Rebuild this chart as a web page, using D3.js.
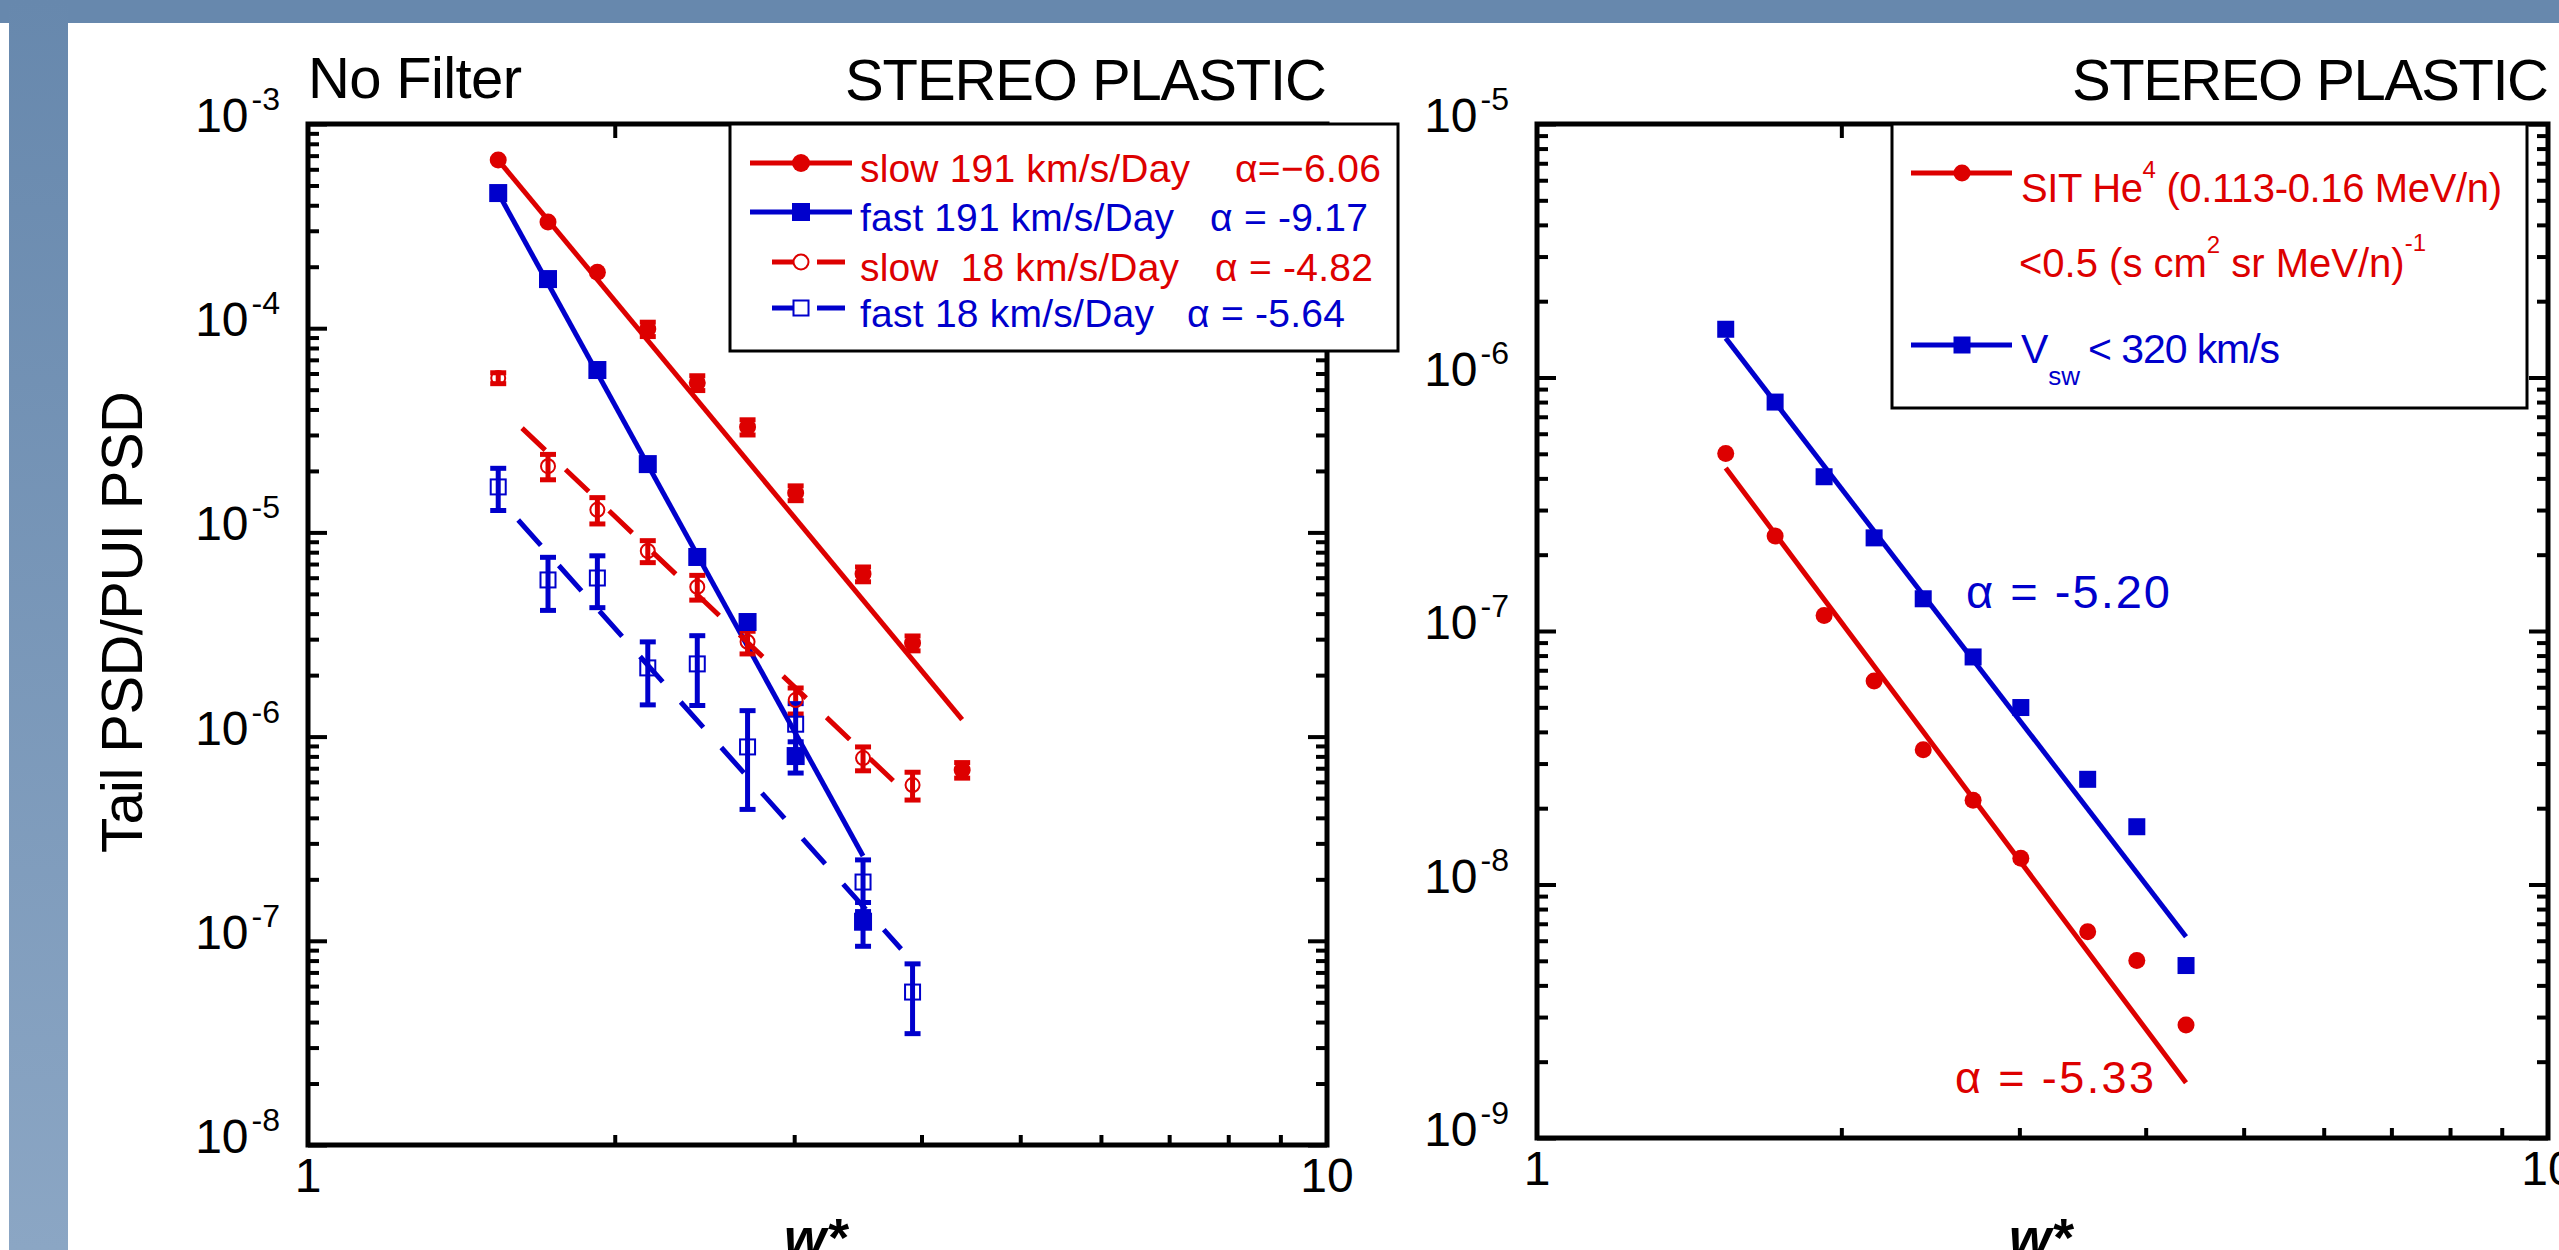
<!DOCTYPE html>
<html>
<head>
<meta charset="utf-8">
<script src="https://cdn.jsdelivr.net/npm/d3@7"></script>
<style>
  body { margin: 0; background: #fff; }
  svg text { font-family: "Liberation Sans", Arial, Helvetica, sans-serif; white-space: pre; }
</style>
</head>
<body>
<svg id="fig" width="2559" height="1250"></svg>
<script>
// ---- data ----
var wStar = [1.537, 1.72, 1.923, 2.155, 2.41, 2.70, 3.01, 3.505, 3.92, 4.385];

// left panel: Tail PSD / PUI PSD
var slow191 = [6.66e-4, 3.31e-4, 1.88e-4, 9.9e-5, 5.4e-5, 3.28e-5, 1.56e-5, 6.25e-6, 2.87e-6, 6.86e-7];
var slow191Err = [0, 0, 0, 8e-6, 4.5e-6, 2.8e-6, 1.3e-6, 5.2e-7, 2.4e-7, 6e-8];
var fast191 = [4.59e-4, 1.74e-4, 6.24e-5, 2.16e-5, 7.58e-6, 3.64e-6, 8.03e-7, 1.24e-7];
var fast191Err = [0, 0, 0, 0, 0, 2e-7, 1.4e-7, 3e-8];
var slow18 = [5.70e-5, 2.11e-5, 1.29e-5, 8.11e-6, 5.41e-6, 2.91e-6, 1.51e-6, 7.85e-7, 5.79e-7];
var slow18Err = [3.5e-6, 3.0e-6, 1.9e-6, 1.0e-6, 7.5e-7, 3.7e-7, 2.2e-7, 1.05e-7, 9e-8];
var fast18 = [1.67e-5, 5.85e-6, 5.98e-6, 2.17e-6, 2.27e-6, 8.9e-7, 1.15e-6, 1.94e-7, 5.61e-8];
var fast18Err = [3.9e-6, 1.7e-6, 1.7e-6, 7.4e-7, 8.5e-7, 4.5e-7, 3e-7, 5.5e-8, 2.1e-8];

// fitted power laws (end points)
var fitSlow191W = [1.537, 4.385], fitSlow191V = [6.66e-4, 1.21e-6];
var fitFast191W = [1.537, 3.505], fitFast191V = [4.59e-4, 2.6e-7];
var fitSlow18W = [1.622, 3.92], fitSlow18V = [3.24e-5, 4.94e-7];
var fitFast18W = [1.608, 3.82], fitFast18V = [1.15e-5, 9.12e-8];

var legendL = ['slow 191 km/s/Day', 'fast 191 km/s/Day', 'slow  18 km/s/Day', 'fast 18 km/s/Day'];
var alphaL = ['\u03b1=\u22126.06', '\u03b1 = -9.17', '\u03b1 = -4.82', '\u03b1 = -5.64'];

// right panel: SIT He4 vs slow solar wind
var sitHe4 = [5.01e-7, 2.37e-7, 1.15e-7, 6.35e-8, 3.40e-8, 2.15e-8, 1.27e-8, 6.51e-9, 5.01e-9, 2.79e-9];
var vswSlow = [1.55e-6, 8.0e-7, 4.06e-7, 2.33e-7, 1.34e-7, 7.9e-8, 4.99e-8, 2.60e-8, 1.69e-8, 4.79e-9];
var fitSitW = [1.537, 4.385], fitSitV = [4.4e-7, 1.65e-9];
var fitVswW = [1.537, 4.385], fitVswV = [1.43e-6, 6.22e-9];
var alphaR = ['\u03b1 = -5.20', '\u03b1 = -5.33'];

// tick labels
var yExpL = [-8, -7, -6, -5, -4, -3];
var yExpR = [-9, -8, -7, -6, -5];
var xTickLabels = [1, 10];

var RED = '#dd0000', BLUE = '#0000cc';
var W = 2559, H = 1250;

var svg = d3.select('#fig');

// ---- slide background ----
var grad = svg.append('defs').append('linearGradient').
attr('id', 'strip').attr('x1', 0).attr('y1', 0).attr('x2', 0).attr('y2', 1);
grad.append('stop').attr('offset', '0%').attr('stop-color', '#6788ad');
grad.append('stop').attr('offset', '100%').attr('stop-color', '#8ba6c4');
svg.append('rect').attr('width', W).attr('height', H).attr('fill', '#fff');
svg.append('rect').attr('width', W).attr('height', 23).attr('fill', '#6788ad');
svg.append('rect').attr('x', 9).attr('width', 59).attr('height', H).attr('fill', 'url(#strip)');

// ---- scales ----
var xL = d3.scaleLog().domain([1, 10]).range([308, 1327]);
var yL = d3.scaleLog().domain([1e-8, 1e-3]).range([1145, 124]);
var xR = d3.scaleLog().domain([1, 10]).range([1537, 2548]);
var yR = d3.scaleLog().domain([1e-9, 1e-5]).range([1138, 124]);

function minorTicks(exps) {
  var out = [];
  for (var i = 0; i < exps.length - 1; i++) {
    for (var k = 2; k <= 9; k++) out.push(k * Math.pow(10, exps[i]));
  }
  return out;
}

function drawFrame(g, x, y, exps, titleX) {
  var x0 = x.range()[0], x1 = x.range()[1], yb = y.range()[0], yt = y.range()[1];
  var majors = exps.map(function (e) { return Math.pow(10, e); });
  var xMinor = d3.range(2, 10);
  g.append('g').attr('class', 'tk').attr('transform', 'translate(0,' + yb + ')').
  call(d3.axisBottom(x).tickValues(xMinor).tickSize(-10).tickFormat(''));
  g.append('g').attr('class', 'tk').attr('transform', 'translate(0,' + yt + ')').
  call(d3.axisTop(x).tickValues(xMinor).tickSize(-14).tickFormat(''));
  [[majors, 19], [minorTicks(exps), 11]].forEach(function (p) {
    g.append('g').attr('class', 'tk').attr('transform', 'translate(' + x0 + ',0)').
    call(d3.axisLeft(y).tickValues(p[0]).tickSize(-p[1]).tickFormat(''));
    g.append('g').attr('class', 'tk').attr('transform', 'translate(' + x1 + ',0)').
    call(d3.axisRight(y).tickValues(p[0]).tickSize(-p[1]).tickFormat(''));
  });
  g.selectAll('.tk .domain').remove();
  g.selectAll('.tk line').attr('stroke', '#000').attr('stroke-width', 4);
  g.append('rect').attr('x', x0).attr('y', yt).attr('width', x1 - x0).attr('height', yb - yt).
  attr('fill', 'none').attr('stroke', '#000').attr('stroke-width', 5);

  // y labels 10^n
  exps.forEach(function (e) {
    var t = g.append('text').attr('x', x0 - 28).attr('y', y(Math.pow(10, e)) + 8).
    attr('text-anchor', 'end').attr('font-size', 48).attr('fill', '#000');
    t.append('tspan').text('10');
    t.append('tspan').attr('dx', 3).attr('dy', -22).attr('font-size', 32).text(String(e));
  });
  // x labels
  xTickLabels.forEach(function (v) {
    g.append('text').attr('x', x(v)).attr('y', yb + 47).attr('text-anchor', 'middle').
    attr('font-size', 48).text(v);
  });
  // x title
  g.append('text').attr('x', titleX).attr('y', 1256).
  attr('font-size', 54).attr('font-style', 'italic').attr('font-weight', 'bold').text('w*');
}

function fitLine(g, x, y, ws, vs, color, dash) {
  var line = d3.line().x(function (d) { return x(d[0]); }).y(function (d) { return y(d[1]); });
  g.append('path').datum(d3.zip(ws, vs)).attr('d', line).
  attr('fill', 'none').attr('stroke', color).attr('stroke-width', 5).
  attr('stroke-dasharray', dash || null);
}

function errorBars(g, x, y, ws, vs, errs, color) {
  vs.forEach(function (v, i) {
    if (!errs[i]) return;
    var cx = x(ws[i]), ty = y(v + errs[i]), by = y(v - errs[i]);
    g.append('line').attr('x1', cx).attr('x2', cx).attr('y1', ty).attr('y2', by).
    attr('stroke', color).attr('stroke-width', 5);
    [ty, by].forEach(function (yy) {
      g.append('line').attr('x1', cx - 8).attr('x2', cx + 8).attr('y1', yy).attr('y2', yy).
      attr('stroke', color).attr('stroke-width', 5);
    });
  });
}

function marker(g, cx, cy, shape, color, filled, size) {
  if (shape === 'circle') {
    g.append('circle').attr('cx', cx).attr('cy', cy).attr('r', size / 2).
    attr('fill', filled ? color : 'none').attr('stroke', color).attr('stroke-width', filled ? 0 : 2);
  } else {
    g.append('rect').attr('x', cx - size / 2).attr('y', cy - size / 2).attr('width', size).attr('height', size).
    attr('fill', filled ? color : 'none').attr('stroke', color).attr('stroke-width', filled ? 0 : 2);
  }
}

function points(g, x, y, ws, vs, shape, color, filled, size) {
  vs.forEach(function (v, i) { marker(g, x(ws[i]), y(v), shape, color, filled, size); });
}

// ================= left panel =================
var gl = svg.append('g');
drawFrame(gl, xL, yL, yExpL, 784);

fitLine(gl, xL, yL, fitSlow191W, fitSlow191V, RED);
fitLine(gl, xL, yL, fitFast191W, fitFast191V, BLUE);
fitLine(gl, xL, yL, fitSlow18W, fitSlow18V, RED, '32,28');
fitLine(gl, xL, yL, fitFast18W, fitFast18V, BLUE, '34,27');

errorBars(gl, xL, yL, wStar, slow191, slow191Err, RED);
errorBars(gl, xL, yL, wStar, fast191, fast191Err, BLUE);
errorBars(gl, xL, yL, wStar, slow18, slow18Err, RED);
errorBars(gl, xL, yL, wStar, fast18, fast18Err, BLUE);

points(gl, xL, yL, wStar, slow191, 'circle', RED, true, 17);
points(gl, xL, yL, wStar, fast191, 'square', BLUE, true, 18);
points(gl, xL, yL, wStar, slow18, 'circle', RED, false, 14);
points(gl, xL, yL, wStar, fast18, 'square', BLUE, false, 15);

gl.append('text').attr('x', 308).attr('y', 98).attr('font-size', 58).
attr('textLength', 214).text('No Filter');
gl.append('text').attr('x', 1327).attr('y', 100).attr('font-size', 58).attr('text-anchor', 'end').
attr('textLength', 482).text('STEREO PLASTIC');
gl.append('text').attr('transform', 'translate(142,622) rotate(-90)').attr('text-anchor', 'middle').
attr('font-size', 58).attr('textLength', 462).text('Tail PSD/PUI PSD');

// legend
var lg = gl.append('g');
lg.append('rect').attr('x', 730).attr('y', 124).attr('width', 668).attr('height', 227).
attr('fill', '#fff').attr('stroke', '#000').attr('stroke-width', 3);
var rowY = [163, 212, 262, 308];
var rowCol = [RED, BLUE, RED, BLUE];
var rowLen = [330, 314, 319, 294];
var alphaX = [1235, 1210, 1215, 1187];
var alphaLen = [146, 158, 158, 158];
rowY.forEach(function (ry, i) {
  var c = rowCol[i];
  if (i < 2) {
    lg.append('line').attr('x1', 750).attr('x2', 852).attr('y1', ry).attr('y2', ry).
    attr('stroke', c).attr('stroke-width', 5);
    marker(lg, 801, ry, i === 0 ? 'circle' : 'square', c, true, 18);
  } else {
    [[772, 794], [817, 845]].forEach(function (s) {
      lg.append('line').attr('x1', s[0]).attr('x2', s[1]).attr('y1', ry).attr('y2', ry).
      attr('stroke', c).attr('stroke-width', 5);
    });
    marker(lg, 801, ry, i === 2 ? 'circle' : 'square', c, false, 15);
  }
  lg.append('text').attr('x', 860).attr('y', ry + 19).attr('font-size', 39).attr('fill', c).
  attr('textLength', rowLen[i]).text(legendL[i]);
  lg.append('text').attr('x', alphaX[i]).attr('y', ry + 19).attr('font-size', 39).attr('fill', c).
  attr('textLength', alphaLen[i]).text(alphaL[i]);
});

// ================= right panel =================
var gr = svg.append('g');
drawFrame(gr, xR, yR, yExpR, 2009);

fitLine(gr, xR, yR, fitVswW, fitVswV, BLUE);
fitLine(gr, xR, yR, fitSitW, fitSitV, RED);
points(gr, xR, yR, wStar, vswSlow, 'square', BLUE, true, 17);
points(gr, xR, yR, wStar, sitHe4, 'circle', RED, true, 17);

gr.append('text').attr('x', 2549).attr('y', 100).attr('font-size', 58).attr('text-anchor', 'end').
attr('textLength', 477).text('STEREO PLASTIC');
gr.append('text').attr('x', 1966).attr('y', 608).attr('font-size', 47).attr('fill', BLUE).
attr('textLength', 204).text(alphaR[0]);
gr.append('text').attr('x', 1955).attr('y', 1093).attr('font-size', 45).attr('fill', RED).
attr('textLength', 199).text(alphaR[1]);

var rg = gr.append('g');
rg.append('rect').attr('x', 1892).attr('y', 124).attr('width', 635).attr('height', 284).
attr('fill', '#fff').attr('stroke', '#000').attr('stroke-width', 3);
rg.append('line').attr('x1', 1911).attr('x2', 2012).attr('y1', 173).attr('y2', 173).
attr('stroke', RED).attr('stroke-width', 5);
marker(rg, 1962, 173, 'circle', RED, true, 17);
rg.append('line').attr('x1', 1911).attr('x2', 2012).attr('y1', 345).attr('y2', 345).
attr('stroke', BLUE).attr('stroke-width', 5);
marker(rg, 1962, 345, 'square', BLUE, true, 17);

var t1 = rg.append('text').attr('x', 2021).attr('y', 202).attr('font-size', 40).attr('fill', RED).
attr('textLength', 481);
t1.append('tspan').text('SIT He');
t1.append('tspan').attr('dy', -24).attr('font-size', 24).text('4');
t1.append('tspan').attr('dy', 24).text(' (0.113-0.16 MeV/n)');

var t2 = rg.append('text').attr('x', 2019).attr('y', 277).attr('font-size', 40).attr('fill', RED);
t2.append('tspan').text('<0.5 (s cm');
t2.append('tspan').attr('dy', -24).attr('font-size', 24).text('2');
t2.append('tspan').attr('dy', 24).text(' sr MeV/n)');
t2.append('tspan').attr('dy', -26).attr('font-size', 24).text('-1');

var t3 = rg.append('text').attr('x', 2021).attr('y', 363).attr('font-size', 41).attr('fill', BLUE);
t3.append('tspan').text('V');
t3.append('tspan').attr('dy', 22).attr('font-size', 26).text('sw');
rg.append('text').attr('x', 2088).attr('y', 363).attr('font-size', 41).attr('fill', BLUE).
attr('textLength', 192).text('< 320 km/s');
</script>
</body>
</html>
